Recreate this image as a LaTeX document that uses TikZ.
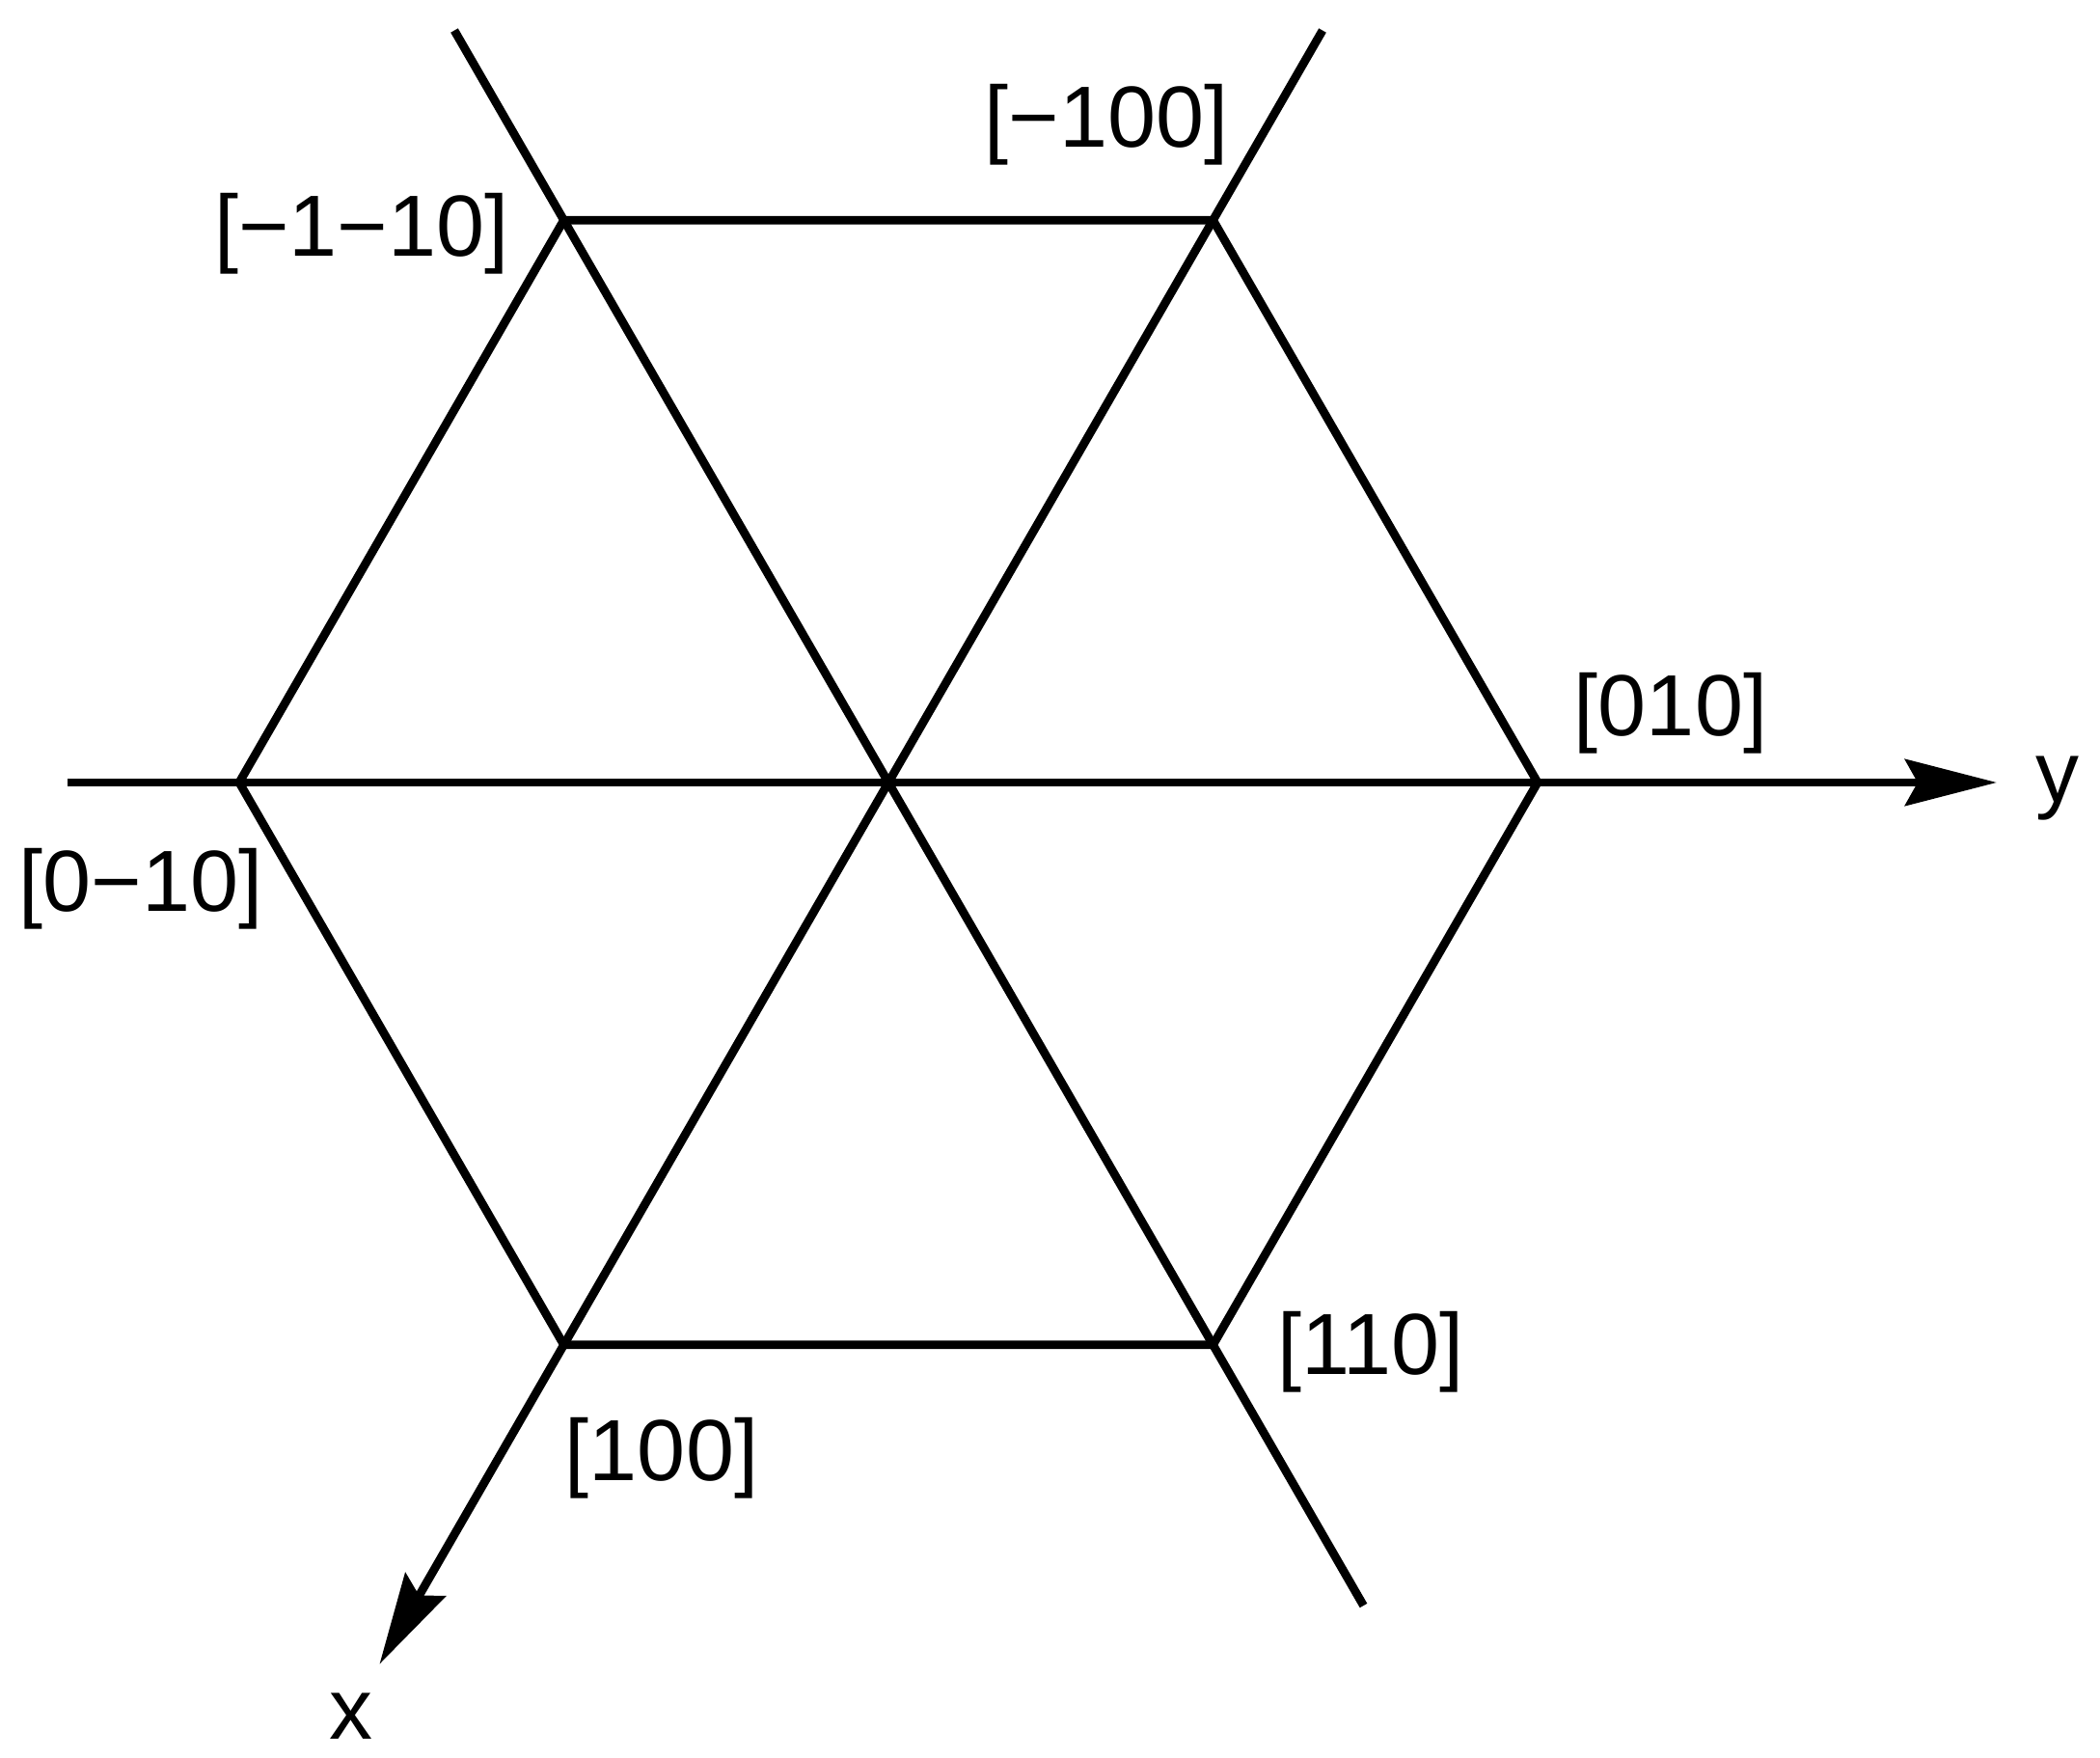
\documentclass[tikz,border=0pt]{standalone}
\usepackage{fontspec}
\setmainfont{Liberation Sans}
\usepackage{tikz}
\usetikzlibrary{arrows.meta}

\begin{document}
\begin{tikzpicture}
[line width = 2.5pt]
\tikzset{
	axis/.style = {-{Stealth[length=9.5mm, width=4.8mm, inset=1.3mm]}},
	dirlabel/.style = {font=\fontsize{25.6}{30}\selectfont, inner sep=0},
	axislabel/.style = {font=\fontsize{25.6}{30}\selectfont, inner sep=0, anchor=base}
}
\useasboundingbox (-9.21,-10.11) rectangle (12.56,8.11);

% hexagon corners
\coordinate (o) at (0,0);
\coordinate (e) at (0:6.73);
\coordinate (ne) at (60:6.73);
\coordinate (nw) at (120:6.73);
\coordinate (w) at (180:6.73);
\coordinate (sw) at (240:6.73);
\coordinate (se) at (300:6.73);

% free ends of the long lines
\coordinate (a1) at (120:9.0);
\coordinate (a2) at (300:9.85);
\coordinate (b1) at (60:9.0);
\coordinate (xend) at (240:10.55);
\coordinate (h1) at (-8.51,0);
\coordinate (yend) at (11.49,0);

\draw (ne) -- (e) -- (se) -- (sw) -- (w) -- (nw) -- cycle;
\draw (a1) -- (a2);
\draw [axis] (b1) -- (xend);
\draw [axis] (h1) -- (yend);

\node (l100m) [dirlabel] at (2.26,6.82) {[−100]};
\node (l110m) [dirlabel] at (-5.46,5.69) {[−1−10]};
\node (l010) [dirlabel] at (8.11,0.72) {[010]};
\node (l010m) [dirlabel] at (-7.75,-1.10) {[0−10]};
\node (l110) [dirlabel] at (5.00,-5.90) {[110]};
\node (l100) [dirlabel] at (-2.35,-7.00) {[100]};
\node (ylab) [axislabel] at (12.12,-0.21) {y};
\node (xlab) [axislabel] at (-5.57,-9.91) {x};
\end{tikzpicture}
\end{document}
